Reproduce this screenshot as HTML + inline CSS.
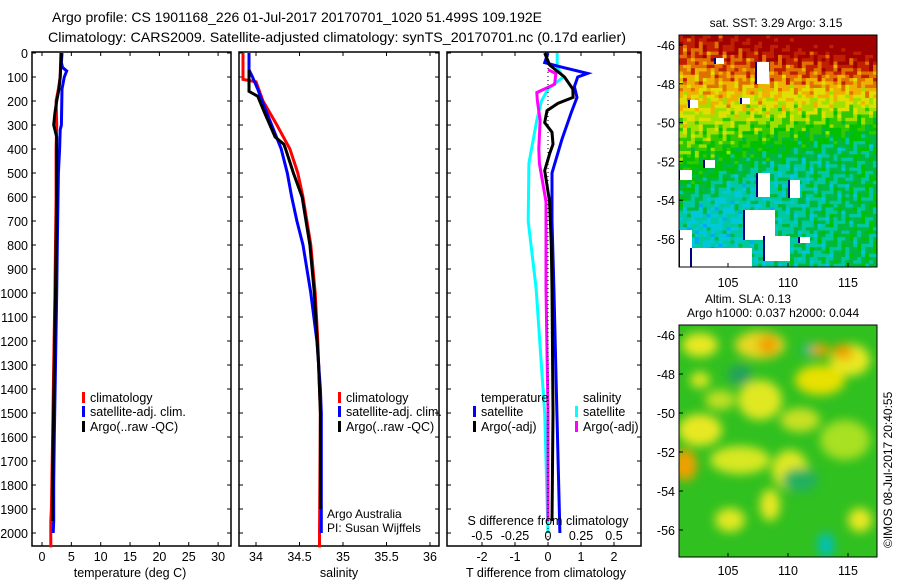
<!DOCTYPE html>
<html><head><meta charset="utf-8"><style>
html,body{margin:0;padding:0;background:#fff;}
svg{display:block;font-family:"Liberation Sans",sans-serif;}
text{font-size:13px;fill:#000;}
</style></head><body>
<svg id="c" width="900" height="580" viewBox="0 0 900 580">
<defs>
<filter id="blur" x="-20%" y="-20%" width="140%" height="140%"><feGaussianBlur stdDeviation="5"/></filter>
<clipPath id="clipTop"><rect x="679" y="35" width="198" height="232"/></clipPath>
<clipPath id="clipBot"><rect x="679" y="325" width="198" height="232"/></clipPath>
</defs>
<text x="52" y="22" style="font-size:14px" textLength="490" lengthAdjust="spacingAndGlyphs">Argo profile: CS 1901168_226 01-Jul-2017 20170701_1020 51.499S 109.192E</text>
<text x="48" y="42" style="font-size:14px" textLength="578" lengthAdjust="spacingAndGlyphs">Climatology: CARS2009. Satellite-adjusted climatology: synTS_20170701.nc (0.17d earlier)</text>
<g id="g"></g>
</svg>
<script>
// ---------- data ----------
const depthTicks=[0,100,200,300,400,500,600,700,800,900,1000,1100,1200,1300,1400,1500,1600,1700,1800,1900,2000];
const tempTicks=[0,5,10,15,20,25,30];
const salTicks=[34,34.5,35,35.5,36];
const tdiffTicks=[-2,-1,0,1,2];
const sdiffTicks=[-0.5,-0.25,0,0.25,0.5];
const sdiffLabels=["-0.5","-0.25","0","0.25","0.5"];
const latTicks=[-46,-48,-50,-52,-54,-56];
const lonTicks=[105,110,115];

const tClimDepth=[0,100,150,200,300,400,600,800,1000,1300,1600,1900,1950,2060];
const tClimVal=[3.2,3.1,2.8,2.4,2.5,2.4,2.4,2.3,2.2,2.0,1.8,1.6,1.5,1.5];
const tSatDepth=[0,40,60,75,100,150,300,320,400,500,800,1000,1300,1600,1800,1950,2000];
const tSatVal=[3.4,3.3,3.5,4.2,3.8,3.4,3.3,3.1,3.0,2.8,2.6,2.5,2.3,2.1,2.0,2.0,1.9];
const tArgoDepth=[0,50,100,150,200,250,300,330,350,400,600,800,1000,1300,1600,1800,1950];
const tArgoVal=[3.3,3.2,3.1,2.9,2.5,2.2,2.0,2.3,2.5,2.5,2.5,2.4,2.3,2.1,1.9,1.8,1.8];

const sClimDepth=[0,110,120,200,300,400,500,600,800,1000,1200,1500,2000,2060];
const sClimVal=[33.85,33.85,34.0,34.08,34.24,34.39,34.48,34.54,34.63,34.68,34.71,34.74,34.73,34.73];
const sSatDepth=[0,60,70,100,150,200,300,400,500,600,700,800,1000,1200,1400,1500,2000];
const sSatVal=[33.92,33.92,33.92,33.96,34.02,34.07,34.18,34.29,34.36,34.41,34.47,34.54,34.63,34.70,34.74,34.75,34.75];
const sArgoDepth=[70,160,180,250,350,380,400,500,600,800,1000,1300,1500,1900];
const sArgoVal=[33.92,33.92,34.02,34.1,34.22,34.32,34.34,34.43,34.53,34.62,34.67,34.72,34.74,34.74];

const dTSatDepth=[0,40,55,85,100,140,185,250,360,500,700,980,1500,2000];
const dTSatVal=[0.0,-0.1,0.3,1.2,0.9,0.8,0.88,0.7,0.42,0.12,0.12,0.18,0.27,0.36];
const dTArgoDepth=[0,50,100,150,185,210,240,290,330,380,420,490,620,800,980,1500,1950];
const dTArgoVal=[-0.1,0.05,0.5,0.75,0.76,0.3,-0.03,-0.1,0.12,0.15,0.05,-0.1,0.05,0.1,0.12,0.15,0.12];
const dSSatDepth=[0,60,100,150,200,280,460,700,980,1500,2000];
const dSSatVal=[0.07,0.07,0.115,0.0,-0.05,-0.085,-0.145,-0.15,-0.09,-0.025,0.0];
const dSArgoDepth=[70,85,130,165,200,280,400,460,620,980,1500,1950];
const dSArgoVal=[0.0,0.06,0.05,-0.085,-0.08,-0.06,-0.07,-0.065,-0.015,-0.015,0.0,0.0];

// ---------- helpers ----------
const NS="http://www.w3.org/2000/svg";
const G=document.getElementById('g');
function mk(tag,attrs,parent){const e=document.createElementNS(NS,tag);for(const k in attrs)e.setAttribute(k,attrs[k]);(parent||G).appendChild(e);return e;}
function txt(x,y,s,anchor,size){const e=mk('text',{x:x,y:y,'text-anchor':anchor||'start'});if(size)e.style.fontSize=size+'px';e.textContent=s;return e;}
const yD=d=>53+d*0.24;
const PT=52, PB=546;
function frame(x0,x1,name){const r=mk('rect',{x:x0,y:PT,width:x1-x0,height:PB-PT,fill:'none',stroke:'#000','stroke-width':1.5});

}
function line(xs,ds,sx,color,name,w){const p=xs.map((v,i)=>(i?'L':'M')+sx(v).toFixed(1)+','+yD(ds[i]).toFixed(1)).join('');
const e=mk('path',{d:p,fill:'none',stroke:color,'stroke-width':w||3,'stroke-linejoin':'miter'});

}
function legend(x,y,color,label,name){const r=mk('rect',{x:x,y:y-10,width:3,height:11,fill:color});


const t=txt(x+8,y,label,'start',12.5);

}

// ---------- panel 1 temperature ----------
const xT=v=>42+v*5.87;
frame(32,231,'temperature-panel');
depthTicks.forEach(d=>{mk('line',{x1:32,x2:36,y1:yD(d),y2:yD(d),stroke:'#000'});mk('line',{x1:231,x2:227,y1:yD(d),y2:yD(d),stroke:'#000'});
const t=txt(28,yD(d)+5,String(d),'end',12.5);

});
tempTicks.forEach(v=>{mk('line',{x1:xT(v),x2:xT(v),y1:PT,y2:PT+4,stroke:'#000'});mk('line',{x1:xT(v),x2:xT(v),y1:PB,y2:PB-4,stroke:'#000'});
const t=txt(xT(v),561,String(v),'middle',12.5);

});
{const t=txt(130,577,'temperature (deg C)','middle',12.5);}
line(tClimVal,tClimDepth,xT,'#ff0000','temp-climatology-line');
line(tSatVal,tSatDepth,xT,'#0000ff','temp-satellite-line');
line(tArgoVal,tArgoDepth,xT,'#000000','temp-argo-line');
legend(82,402,'#ff0000','climatology','legend-climatology');
legend(82,416,'#0000ff','satellite-adj. clim.','legend-satellite');
legend(82,431,'#000000','Argo(..raw -QC)','legend-argo');

// ---------- panel 2 salinity ----------
const xS=v=>256+(v-34)*87;
frame(239,439,'salinity-panel');
depthTicks.forEach(d=>{mk('line',{x1:239,x2:243,y1:yD(d),y2:yD(d),stroke:'#000'});mk('line',{x1:439,x2:435,y1:yD(d),y2:yD(d),stroke:'#000'});});
salTicks.forEach(v=>{mk('line',{x1:xS(v),x2:xS(v),y1:PT,y2:PT+4,stroke:'#000'});mk('line',{x1:xS(v),x2:xS(v),y1:PB,y2:PB-4,stroke:'#000'});
const t=txt(xS(v),561,String(v),'middle',12.5);

});
{const t=txt(339,577,'salinity','middle',12.5);}
line(sClimVal,sClimDepth,xS,'#ff0000','sal-climatology-line');
line(sSatVal,sSatDepth,xS,'#0000ff','sal-satellite-line');
line(sArgoVal,sArgoDepth,xS,'#000000','sal-argo-line');
legend(338,402,'#ff0000','climatology','legend-sal-climatology');
legend(338,416,'#0000ff','satellite-adj. clim.','legend-sal-satellite');
legend(338,431,'#000000','Argo(..raw -QC)','legend-sal-argo');
{const t=txt(327,518,'Argo Australia','start',12);
const t2=txt(327,532,'PI: Susan Wijffels','start',12);}

// ---------- panel 3 differences ----------
const xDT=v=>548+v*33;
const xDS=v=>548+v*132;
frame(447,641,'difference-panel');
depthTicks.forEach(d=>{mk('line',{x1:447,x2:451,y1:yD(d),y2:yD(d),stroke:'#000'});mk('line',{x1:641,x2:637,y1:yD(d),y2:yD(d),stroke:'#000'});});
tdiffTicks.forEach(v=>{mk('line',{x1:xDT(v),x2:xDT(v),y1:PT,y2:PT+4,stroke:'#000'});mk('line',{x1:xDT(v),x2:xDT(v),y1:PB,y2:PB-4,stroke:'#000'});
const t=txt(xDT(v),561,String(v),'middle',12.5);

});
line(dSSatVal,dSSatDepth,xDS,'#00ffff','sdiff-satellite-line');
line(dSArgoVal,dSArgoDepth,xDS,'#ff00ff','sdiff-argo-line');
line(dTSatVal,dTSatDepth,xDT,'#0000ff','tdiff-satellite-line');
line(dTArgoVal,dTArgoDepth,xDT,'#000000','tdiff-argo-line');
mk('line',{x1:548,x2:548,y1:PT,y2:PB,stroke:'#000','stroke-dasharray':'1,3'});
sdiffTicks.forEach((v,i)=>{const t=txt(xDS(v),540,sdiffLabels[i],'middle',12.5);

});
{const t=txt(548,525,'S difference from climatology','middle',12.5);
const t2=txt(546,577,'T difference from climatology','middle',12.5);}
{const t=txt(481,402,'temperature','start',12.5);
const t2=txt(583,402,'salinity','start',12.5);}
legend(473,416,'#0000ff','satellite','legend-tdiff-satellite');
legend(473,431,'#000000','Argo(-adj)','legend-tdiff-argo');
legend(575,416,'#00ffff','satellite','legend-sdiff-satellite');
legend(575,431,'#ff00ff','Argo(-adj)','legend-sdiff-argo');

// ---------- maps ----------
const cmap=['#0070f0','#00a8f0','#00c8d8','#00c8a0','#00b840','#00c000','#30c800','#a0e000','#e0e000','#f0b000','#e07000','#c02000','#a00000'];
function col(v){v=Math.max(0,Math.min(0.999,v));return cmap[Math.floor(v*cmap.length)];}
const mTop=mk('g',{'clip-path':'url(#clipTop)'});


const NX=50,NY=70;
for(let i=0;i<NX;i++)for(let j=0;j<NY;j++){const xf=i/NX,yf=j/NY;
const n=0.05*Math.sin(i*1.7+j*0.9)+0.04*Math.sin(i*0.5-j*2.3)+0.04*Math.sin(i*3.1+j*0.4);
let v=0.9+0.22*xf-yf*(0.8+0.95*xf);
v=Math.max(v,0.2+0.15*xf)+n;
mk('rect',{x:679+i*198/NX,y:35+j*232/NY,width:198/NX+0.6,height:232/NY+0.6,fill:col(v)},mTop);}
[[757,62,12,22],[716,58,8,6],[742,98,8,6],[690,100,8,8],[758,173,12,24],[790,180,10,18],[680,230,12,37],[692,248,60,19],[745,210,30,30],[765,236,25,25],[800,237,10,6],[680,170,12,10],[705,160,10,8]].forEach(r=>{
mk('rect',{x:r[0],y:r[1],width:r[2],height:r[3],fill:'#fff'},mTop);mk('rect',{x:r[0]-2,y:r[1],width:2,height:r[3],fill:'#000080'},mTop);});
mk('rect',{x:679,y:35,width:198,height:232,fill:'none',stroke:'#000'});
const mBot=mk('g',{'clip-path':'url(#clipBot)'});


mk('rect',{x:679,y:325,width:198,height:232,fill:'#30c020'},mBot);
const bl=mk('g',{filter:'url(#blur)'},mBot);
[[700,345,18,12,'#e8e820'],[760,345,25,14,'#e8d820'],[812,350,10,6,'#00b8a0'],[850,360,20,16,'#e8e820'],[700,430,22,16,'#e8e820'],[760,400,22,20,'#e0e820'],[820,380,25,15,'#e8e000'],[685,465,12,16,'#f0a000'],[740,460,30,14,'#d8e820'],[790,470,18,20,'#e0e820'],[730,520,15,12,'#e0e820'],[770,505,10,16,'#e8e820'],[860,520,12,12,'#e8e820'],[845,440,25,20,'#a8e020'],[820,350,10,6,'#f0a000'],[768,345,10,10,'#f0a000'],[843,352,10,8,'#f0a000'],[800,480,18,12,'#20b060'],[826,545,8,12,'#00c0c0'],[740,375,12,10,'#20a060'],[720,400,15,10,'#c0e020'],[800,420,20,12,'#c8e020'],[700,380,10,8,'#e0e820']].forEach(e=>{
mk('ellipse',{cx:e[0],cy:e[1],rx:e[2],ry:e[3],fill:e[4]},bl);});
mk('rect',{x:679,y:325,width:198,height:232,fill:'none',stroke:'#000'});
const yLatT=l=>45+(-46-l)*19.4, yLatB=l=>335+(-46-l)*19.5, xLon=l=>728+(l-105)*12;
latTicks.forEach(l=>{[[yLatT,'sst'],[yLatB,'sla']].forEach(([f,n])=>{
mk('line',{x1:679,x2:683,y1:f(l),y2:f(l),stroke:'#000'});
const t=txt(675,f(l)+5,String(l),'end',12.5);

});});
lonTicks.forEach(l=>{mk('line',{x1:xLon(l),x2:xLon(l),y1:267,y2:263,stroke:'#000'});mk('line',{x1:xLon(l),x2:xLon(l),y1:557,y2:553,stroke:'#000'});
const t=txt(xLon(l),287,String(l),'middle',12.5);
const t2=txt(xLon(l),575,String(l),'middle',12.5);});
{const a=txt(776,27,'sat. SST: 3.29 Argo: 3.15','middle',12);
const b=txt(705,303,'Altim. SLA: 0.13','start',12);
const c=txt(687,317,'Argo h1000: 0.037 h2000: 0.044','start',12);
const d=txt(0,0,'©IMOS 08-Jul-2017 20:40:55','start',12);d.setAttribute('transform','translate(892,548) rotate(-90)');}
</script>
</body></html>
